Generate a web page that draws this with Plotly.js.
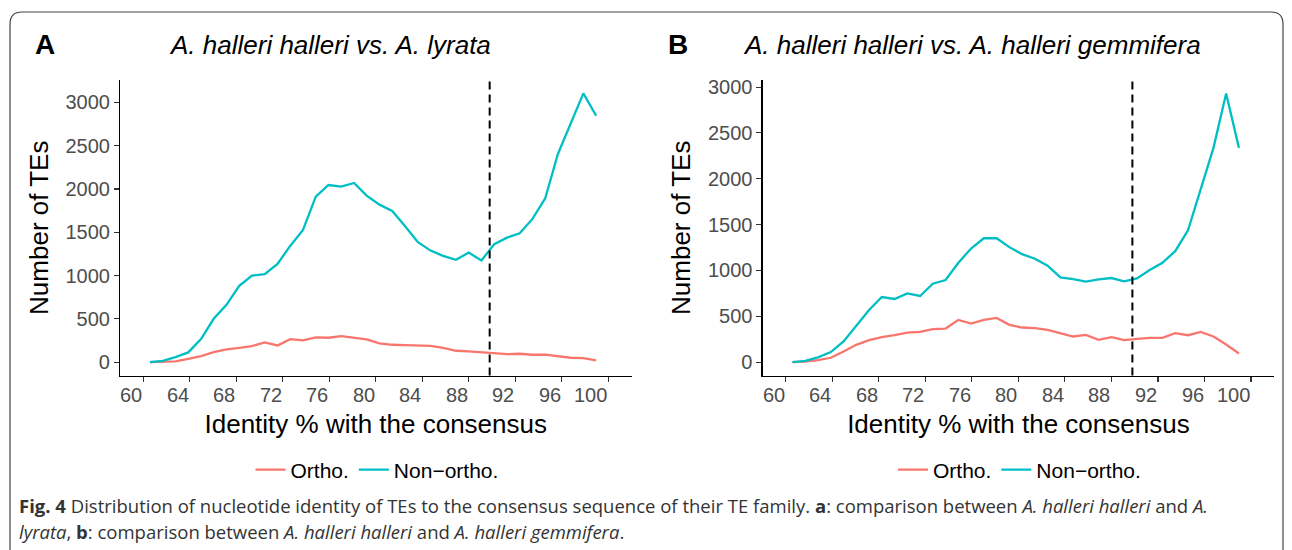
<!DOCTYPE html>
<html>
<head>
<meta charset="utf-8">
<script src="https://cdn.plot.ly/plotly-3.0.1.min.js"></script>
<style>html,body{margin:0;padding:0;background:#fff;}#chart{width:1292px;height:550px;}</style>
</head>
<body>
<div id="chart"></div>
<script>
// ---- data ----
const identity = [60.58, 61.68, 62.77, 63.87, 64.97, 66.06, 67.16, 68.26, 69.35, 70.45,
  71.55, 72.64, 73.74, 74.84, 75.93, 77.03, 78.13, 79.22, 80.32, 81.42,
  82.51, 83.61, 84.71, 85.80, 86.90, 88.00, 89.09, 90.19, 91.29, 92.38,
  93.48, 94.58, 95.67, 96.77, 97.86, 98.96];

const orthoA = [0, 5, 8, 38, 69, 115, 146, 165, 185, 227,
  192, 265, 250, 285, 281, 300, 285, 262, 215, 200,
  196, 188, 188, 165, 131, 123, 115, 104, 92, 96,
  85, 85, 69, 50, 46, 19];
const nonOrthoA = [0, 15, 58, 112, 265, 500, 662, 881, 1000, 1015,
  1135, 1342, 1527, 1912, 2046, 2027, 2069, 1923, 1819, 1746,
  1573, 1388, 1288, 1227, 1181, 1265, 1173, 1362, 1438, 1488,
  1654, 1892, 2404, 2750, 3104, 2846];

const orthoB = [0, 4, 22, 47, 116, 188, 239, 272, 293, 322,
  330, 359, 366, 460, 420, 460, 482, 406, 377, 370,
  351, 315, 279, 297, 243, 272, 239, 254, 264, 264,
  315, 293, 330, 279, 192, 94];
const nonOrthoB = [0, 14, 51, 109, 225, 395, 569, 710, 688, 750,
  721, 855, 895, 1083, 1239, 1351, 1351, 1254, 1177, 1127,
  1051, 924, 906, 877, 902, 917, 880, 913, 1004, 1083,
  1210, 1438, 1891, 2337, 2931, 2337];

const seriesNames = ["Ortho.", "Non\u2212ortho."];
const xTickValues = [60, 64, 68, 72, 76, 80, 84, 88, 92, 96, 100];
const xTickLabels = ["60", "64", "68", "72", "76", "80", "84", "88", "92", "96", "100"];
const yTickValues = [0, 500, 1000, 1500, 2000, 2500, 3000];
const thresholdIdentity = 89.8;
const panelTitles = ["<i>A. halleri halleri vs. A. lyrata</i>", "<i>A. halleri halleri vs. A. halleri gemmifera</i>"];
const panelLetters = ["<b>A</b>", "<b>B</b>"];
const xTitle = "Identity % with the consensus";
const yTitle = "Number of TEs";
const captionLines = [
  "<b>Fig. 4</b> Distribution of nucleotide identity of TEs to the consensus sequence of their TE family. <b>a</b>: comparison between <i>A. halleri halleri</i> and <i>A.</i>",
  "<i>lyrata</i>, <b>b</b>: comparison between <i>A. halleri halleri</i> and <i>A. halleri gemmifera</i>."
];

// ---- styling / layout ----
const W = 1292, H = 550;
const px = x => x / W;
const py = y => 1 - y / H;
const colOrtho = "#F8766D", colNon = "#00BFC4";
const FONT = "Liberation Sans, Arial, sans-serif";

function lineTrace(y, name, color, xa, ya, lg) {
  return {x: identity, y: y, name: name, type: "scatter", mode: "lines",
    line: {color: color, width: 2.3}, xaxis: xa, yaxis: ya, legend: lg, hoverinfo: "skip"};
}

const data = [
  lineTrace(orthoA, seriesNames[0], colOrtho, "x", "y", "legend"),
  lineTrace(nonOrthoA, seriesNames[1], colNon, "x", "y", "legend"),
  lineTrace(orthoB, seriesNames[0], colOrtho, "x2", "y2", "legend2"),
  lineTrace(nonOrthoB, seriesNames[1], colNon, "x2", "y2", "legend2")
];

const plotTop = 80, plotBottom = 375.5;
const xAxisBase = {
  range: [58, 102], showline: true, linecolor: "#000", linewidth: 1.1,
  ticks: "outside", ticklen: 5, tickwidth: 1.1, tickcolor: "#333",
  tickvals: xTickValues, showticklabels: false, showgrid: false, zeroline: false,
  fixedrange: true,
  title: {text: xTitle, font: {family: FONT, size: 26, color: "#000"}, standoff: 34}
};
const yAxisBase = {
  domain: [py(plotBottom), py(plotTop)], showline: true, linecolor: "#000", linewidth: 1.1,
  ticks: "outside", ticklen: 5, tickwidth: 1.1, tickcolor: "#333",
  tickvals: yTickValues, tickfont: {family: FONT, size: 20, color: "#4D4D4D"},
  showgrid: false, zeroline: false, fixedrange: true,
  title: {text: yTitle, font: {family: FONT, size: 26, color: "#000"}, standoff: 9}
};

const annotations = [];
// panel letters and titles
[[45, 330], [678, 972]].forEach((p, i) => {
  annotations.push({text: panelLetters[i], xref: "paper", yref: "paper", x: px(p[0]), y: py(45),
    xanchor: "center", yanchor: "middle", showarrow: false, font: {family: FONT, size: 28, color: "#000"}});
  annotations.push({text: panelTitles[i], xref: "paper", yref: "paper", x: px(p[1]), y: py(45),
    xanchor: "center", yanchor: "middle", showarrow: false, font: {family: FONT, size: 26, color: "#000"}});
});
// x tick labels (right-aligned at the ticks, as in the reference)
["x", "x2"].forEach(xr => {
  xTickValues.forEach((v, i) => {
    annotations.push({text: xTickLabels[i], xref: xr, yref: "paper", x: v, y: py(382),
      xanchor: "right", yanchor: "top", showarrow: false, xshift: 1,
      font: {family: FONT, size: 20, color: "#4D4D4D"}});
  });
});
// caption
captionLines.forEach((t, i) => {
  annotations.push({text: t, xref: "paper", yref: "paper", x: px(17), y: py(505 + i * 26),
    xanchor: "left", yanchor: "middle", showarrow: false, align: "left",
    font: {family: "Open Sans, Noto Sans, sans-serif", size: 18.5, color: "#333"}});
});

const shapes = [
  {type: "line", xref: "x", yref: "y domain", x0: thresholdIdentity, x1: thresholdIdentity, y0: 0, y1: 1,
    line: {color: "#000", width: 2, dash: "8px,5px"}},
  {type: "line", xref: "x2", yref: "y2 domain", x0: thresholdIdentity, x1: thresholdIdentity, y0: 0, y1: 1,
    line: {color: "#000", width: 2, dash: "8px,5px"}},
  {type: "path", xref: "paper", yref: "paper", layer: "below",
    path: `M ${px(10)},${py(620)} L ${px(10)},${py(24)} Q ${px(10)},${py(12)} ${px(22)},${py(12)} L ${px(1271)},${py(12)} Q ${px(1283)},${py(12)} ${px(1283)},${py(24)} L ${px(1283)},${py(620)}`,
    line: {color: "#444", width: 1.2}}
];

const legendBase = {orientation: "h", xanchor: "center", yanchor: "middle", y: py(470),
  font: {family: FONT, size: 21, color: "#000"}, itemwidth: 30, bgcolor: "rgba(0,0,0,0)",
  traceorder: "normal", itemclick: false, itemdoubleclick: false};

const layout = {
  width: W, height: H, margin: {l: 0, r: 0, t: 0, b: 0},
  paper_bgcolor: "#fff", plot_bgcolor: "#fff",
  font: {family: FONT},
  showlegend: true,
  xaxis: Object.assign({}, xAxisBase, {domain: [px(120), px(631.5)], anchor: "y"}),
  yaxis: Object.assign({}, yAxisBase, {range: [-155, 3259], anchor: "x"}),
  xaxis2: Object.assign({}, xAxisBase, {domain: [px(762.5), px(1274.3)], anchor: "y2"}),
  yaxis2: Object.assign({}, yAxisBase, {range: [-146.5, 3077.5], anchor: "x2"}),
  legend: Object.assign({}, legendBase, {x: px(377)}),
  legend2: Object.assign({}, legendBase, {x: px(1019.5)}),
  annotations: annotations,
  shapes: shapes
};

Plotly.newPlot("chart", data, layout, {staticPlot: true, displayModeBar: false});
</script>
</body>
</html>
